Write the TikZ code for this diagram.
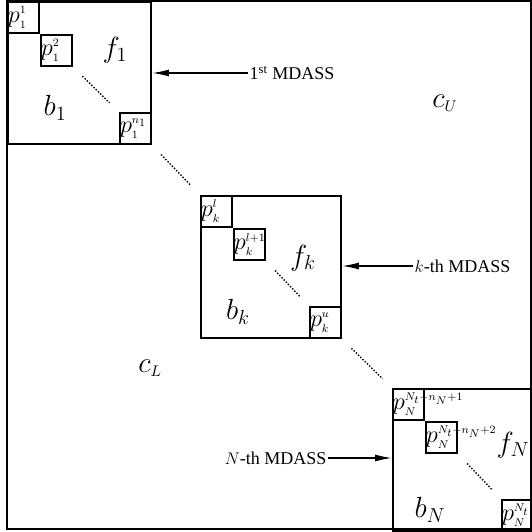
\documentclass[tikz,border=0pt]{standalone}
\usepackage{fontspec}
\setmainfont{Liberation Serif}
\usetikzlibrary{arrows.meta}
\usetikzlibrary{positioning}

\newcommand{\pl}[2]{p_{\scriptscriptstyle #1}^{\scriptscriptstyle #2}}

\tikzset{
  blk/.style={draw, line width=0.05cm, inner sep=0pt, anchor=north west},
  pbox/.style={draw, line width=0.05cm, inner sep=0pt, minimum size=0.775cm},
  plbl/.style={inner sep=0.5pt, anchor=west, font=\fontsize{17}{20}\selectfont},
  big/.style={inner sep=0pt, font=\fontsize{22}{26}\selectfont},
  tag/.style={inner sep=1pt, anchor=west, font=\fontsize{12.8}{15}\selectfont},
  arr/.style={line width=1.1pt, -{Latex[length=12pt,width=5pt]}},
  dots/.style={line width=1pt, dash pattern=on 1pt off 1.2pt, shorten <=0.33cm, shorten >=0.33cm},
}

\begin{document}
\begin{tikzpicture}[x=0.025cm,y=-0.025cm]
\useasboundingbox (0,0) rectangle (532,532);
\clip (0,0) rectangle (532,532);
% whole matrix
\draw[line width=0.05cm] (7,1) rectangle (531,529);
% first MDASS
\node[blk, minimum width=3.575cm, minimum height=3.55cm] (B1) at (7,1) {};
\node[pbox, anchor=north west] (p11) at (B1.north west) {};
\node[pbox, anchor=north west] (p12) at (p11.south east) {};
\node[pbox, anchor=south east] (p1n) at (B1.south east) {};
\node[plbl] (t11) at (p11.west) {$\pl{1}{1}$};
\node[plbl] (t12) at (p12.west) {$\pl{1}{2}$};
\node[plbl] (t1n) at (p1n.west) {$\pl{1}{n_1}$};
\draw[dots] (p12.south east) -- (p1n.north west);
\node[big] (f1) at (115,50) {$f_1$};
\node[big] (b1) at (55,108) {$b_1$};
% k-th MDASS
\node[blk, minimum width=3.5cm, minimum height=3.55cm] (Bk) at (200,195) {};
\node[pbox, anchor=north west] (pkl) at (Bk.north west) {};
\node[pbox, anchor=north west] (pkm) at (pkl.south east) {};
\node[pbox, anchor=south east] (pku) at (Bk.south east) {};
\node[plbl] (tkl) at (pkl.west) {$\pl{k}{l}$};
\node[plbl] (tkm) at (pkm.west) {$\pl{k}{l+1}$};
\node[plbl] (tku) at (pku.west) {$\pl{k}{u}$};
\draw[dots] (pkm.south east) -- (pku.north west);
\node[big] (fk) at (303,258) {$f_k$};
\node[big] (bk) at (238,312) {$b_k$};
% N-th MDASS
\node[blk, minimum width=3.5cm, minimum height=3.55cm] (BN) at (392,388) {};
\node[pbox, anchor=north west] (pNa) at (BN.north west) {};
\node[pbox, anchor=north west] (pNb) at (pNa.south east) {};
\node[pbox, anchor=south east] (pNz) at (BN.south east) {};
\node[plbl] (tNa) at (pNa.west) {$\pl{N}{N_t-n_N+1}$};
\node[plbl] (tNb) at (pNb.west) {$\pl{N}{N_t-n_N+2}$};
\node[plbl] (tNz) at (pNz.west) {$\pl{N}{N_t}$};
\draw[dots] (pNb.south east) -- (pNz.north west);
\node[big] (fN) at (513,445) {$f_N$};
\node[big] (bN) at (430,510) {$b_N$};
% between the blocks
\draw[dots] (B1.south east) -- (Bk.north west);
\draw[dots] (Bk.south east) -- (BN.north west);
\node[big] (cU) at (445,103) {$c_{\scriptscriptstyle U}$};
\node[big] (cL) at (150,368) {$c_{\scriptscriptstyle L}$};
% arrows
\node[tag] (L1) at (248,73) {1\textsuperscript{st} MDASS};
\draw[arr] (L1.west) -- (L1.west -| B1.east);
\node[tag] (Lk) at (413,266) {$k$-th MDASS};
\draw[arr] (Lk.west) -- (Lk.west -| Bk.east);
\node[tag, anchor=east] (LN) at (328,458) {$N$-th MDASS};
\draw[arr] (LN.east) -- (LN.east -| BN.west);
\end{tikzpicture}
\end{document}
